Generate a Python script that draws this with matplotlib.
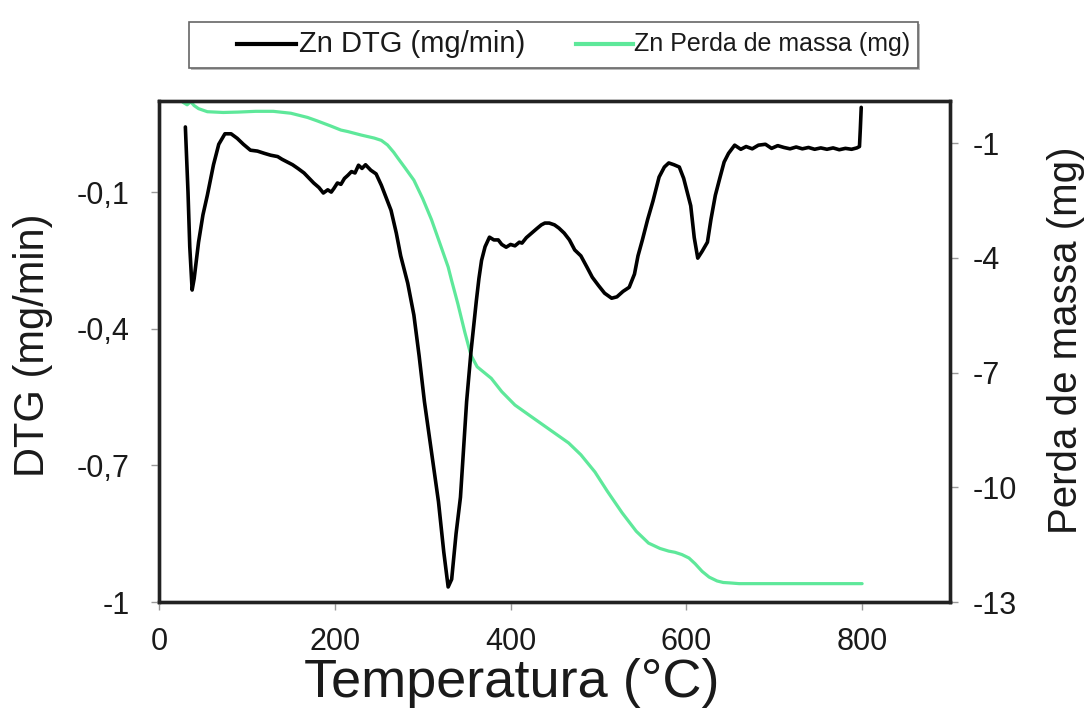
import matplotlib
matplotlib.use("Agg")
import matplotlib.pyplot as plt
from matplotlib.lines import Line2D
from matplotlib.patches import Rectangle
from matplotlib.ticker import FuncFormatter, FixedLocator

plt.rcParams['font.family'] = ['Liberation Sans', 'DejaVu Sans']

# DTG curve of the Zn sample
temp_dtg = [30, 33, 35, 37.7, 40, 45, 50, 55, 62, 68, 75, 82, 89, 96, 104, 112, 120, 127,
            135, 140, 146, 152, 158, 165, 170, 176, 182, 187, 192, 196, 199, 203, 207, 211,
            215, 219, 223, 227, 231, 235, 241, 247, 253, 258, 264, 270, 275, 283, 290, 296,
            302, 310, 318, 324, 329, 333, 338, 343, 350, 355, 361, 364, 367, 371, 376, 381,
            386, 390, 395, 400, 405, 410, 413, 418, 424, 430, 435, 439, 444, 450, 455, 461,
            467, 473, 480, 487, 493, 500, 507, 515, 521, 528, 535, 541, 545, 550, 556, 562,
            569, 575, 580, 586, 592, 597, 601, 605, 609, 613, 618, 624, 628, 633, 638, 643,
            648, 655, 662, 668, 675, 682, 690, 697, 704, 711, 718, 725, 732, 739, 746, 753,
            760, 767, 774, 781, 788, 794, 797, 798, 799]
dtg = [0.043, -0.10, -0.22, -0.315, -0.29, -0.21, -0.15, -0.107, -0.04, 0.005, 0.028, 0.028,
       0.018, 0.005, -0.008, -0.010, -0.015, -0.019, -0.022, -0.028, -0.034, -0.040, -0.048,
       -0.058, -0.068, -0.080, -0.090, -0.102, -0.095, -0.100, -0.092, -0.080, -0.083, -0.070,
       -0.063, -0.055, -0.058, -0.041, -0.048, -0.040, -0.052, -0.060, -0.085, -0.110, -0.140,
       -0.190, -0.240, -0.300, -0.370, -0.460, -0.560, -0.670, -0.780, -0.890, -0.967, -0.950,
       -0.850, -0.770, -0.560, -0.450, -0.340, -0.290, -0.250, -0.220, -0.199, -0.205, -0.205,
       -0.215, -0.221, -0.215, -0.218, -0.210, -0.212, -0.200, -0.190, -0.180, -0.172, -0.168,
       -0.168, -0.172, -0.179, -0.190, -0.205, -0.227, -0.240, -0.265, -0.287, -0.305, -0.322,
       -0.333, -0.330, -0.318, -0.309, -0.280, -0.240, -0.205, -0.160, -0.120, -0.067, -0.045,
       -0.036, -0.040, -0.045, -0.070, -0.100, -0.130, -0.200, -0.245, -0.230, -0.210, -0.160,
       -0.107, -0.070, -0.034, -0.015, 0.003, -0.006, 0.000, -0.005, 0.003, 0.005, -0.004,
       0.002, -0.002, -0.005, -0.001, -0.005, -0.002, -0.006, -0.003, -0.006, -0.003, -0.007,
       -0.004, -0.006, -0.003, 0.000, 0.040, 0.086]

# Mass loss curve of the Zn sample
temp_mass = [27, 32, 36, 40, 45, 55, 73, 90, 110, 130, 150, 169, 180, 195, 207, 215, 230, 245,
             253, 260, 267, 272, 280, 290, 300, 310, 320, 329, 333, 340, 348, 355, 362, 370,
             378, 390, 405, 424, 445, 466, 480, 496, 510, 527, 543, 557, 570, 580, 587, 595,
             603, 610, 618, 626, 635, 642, 649, 660, 700, 750, 800]
mass = [0.07, 0.0, 0.08, -0.02, -0.10, -0.18, -0.20, -0.19, -0.17, -0.17, -0.22, -0.33, -0.42,
        -0.55, -0.66, -0.70, -0.79, -0.87, -0.93, -1.05, -1.24, -1.40, -1.65, -1.97, -2.45,
        -3.00, -3.65, -4.24, -4.60, -5.20, -5.95, -6.55, -6.85, -7.00, -7.15, -7.50, -7.85,
        -8.16, -8.50, -8.84, -9.15, -9.60, -10.10, -10.67, -11.15, -11.46, -11.60, -11.67,
        -11.70, -11.76, -11.85, -12.00, -12.20, -12.35, -12.45, -12.49, -12.50, -12.52,
        -12.52, -12.52, -12.52]

x_ticks = [0, 200, 400, 600, 800]
dtg_ticks = [-1, -0.7, -0.4, -0.1]
mass_ticks = [-13, -10, -7, -4, -1]

dtg_label = 'DTG (mg/min)'
mass_label = 'Perda de massa (mg)'
x_label = 'Temperatura (°C)'
dtg_name = 'Zn DTG (mg/min)'
mass_name = 'Zn Perda de massa (mg)'

black = '#000000'
green = '#5EE89A'
text_color = '#1a1a1a'


def comma_fmt(v, pos):
    if abs(v - round(v)) < 1e-9:
        return f"{int(round(v))}"
    return f"{v:.1f}".replace('.', ',')


W, H = 1089, 722
fig = plt.figure(figsize=(W / 100, H / 100), dpi=100)
ax = fig.add_axes([159 / W, 120 / H, 791 / W, 501 / H])
ax2 = ax.twinx()

ax2.plot(temp_mass, mass, color=green, lw=2.3, solid_capstyle='round', solid_joinstyle='round')
ax.plot(temp_dtg, dtg, color=black, lw=2.6, solid_capstyle='round', solid_joinstyle='round')
ax.set_zorder(ax2.get_zorder() + 1)
ax.patch.set_visible(False)

ax.set_xlim(0, 900)
ax.set_ylim(-1, 0.1)
ax2.set_ylim(-13, 0.1)

ax.xaxis.set_major_locator(FixedLocator(x_ticks))
ax.yaxis.set_major_locator(FixedLocator(dtg_ticks))
ax2.yaxis.set_major_locator(FixedLocator(mass_ticks))
ax.yaxis.set_major_formatter(FuncFormatter(comma_fmt))
ax2.yaxis.set_major_formatter(FuncFormatter(comma_fmt))

for a in (ax, ax2):
    for s in a.spines.values():
        s.set_linewidth(2.4)
        s.set_color('#222222')

ax.tick_params(axis='x', direction='out', length=6, width=1, color='#999999',
               labelsize=22, pad=12, labelcolor=text_color)
ax.tick_params(axis='y', direction='out', length=6, width=1, color='#999999',
               labelsize=22, pad=15, labelcolor=text_color)
ax2.tick_params(axis='y', direction='out', length=6, width=1, color='#999999',
                labelsize=22, pad=10, labelcolor=text_color)

fig.text(512 / W, 1 - 683 / H, x_label, fontsize=39, ha='center', va='center', color=text_color)
fig.text(33 / W, 1 - 345 / H, dtg_label, fontsize=30, rotation=90, ha='center', va='center',
         color=text_color)
fig.text(1066 / W, 1 - 340 / H, mass_label, fontsize=29, rotation=90, ha='center', va='center',
         color=text_color)

# legend box above the plot
ly = 1 - 44 / H
fig.add_artist(Rectangle((191 / W, 1 - 70 / H), (918 - 189) / W, 46 / H,
                         transform=fig.transFigure, fill=True, facecolor='#bbbbbb',
                         edgecolor='none', zorder=1))
fig.add_artist(Rectangle((189 / W, 1 - 68 / H), (918 - 189) / W, 46 / H,
                         transform=fig.transFigure, facecolor='white',
                         edgecolor='#666666', lw=1.2, zorder=2))
fig.add_artist(Line2D([237 / W, 296 / W], [ly, ly], color=black, lw=3, zorder=3,
                      transform=fig.transFigure))
fig.text(299 / W, ly, dtg_name, fontsize=21, va='center', ha='left', color=text_color, zorder=3)
fig.add_artist(Line2D([576 / W, 633 / W], [ly, ly], color=green, lw=3, zorder=3,
                      transform=fig.transFigure))
fig.text(634 / W, ly, mass_name, fontsize=18, va='center', ha='left', color=text_color, zorder=3)

fig.savefig('out.png', dpi=100)
